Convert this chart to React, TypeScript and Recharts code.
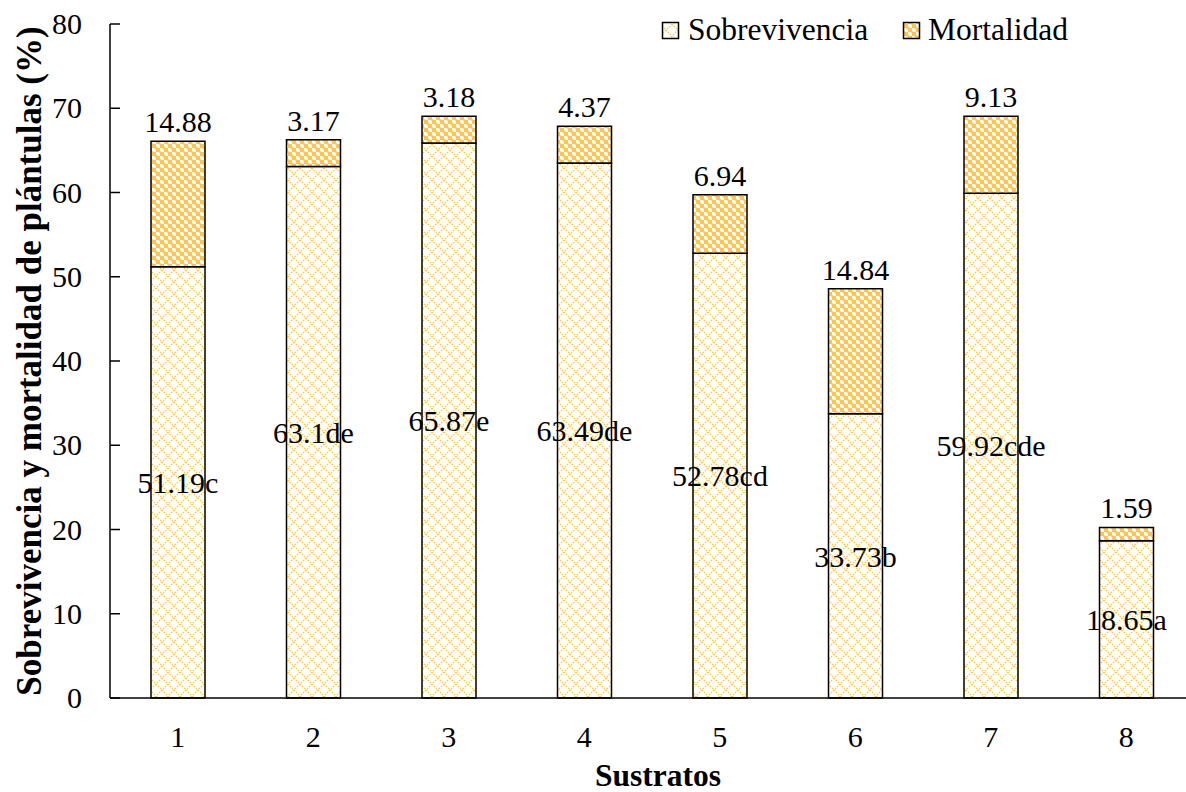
import React from "react";
import { BarChart, Bar, XAxis, YAxis, LabelList } from "recharts";

const sustratos = ["1", "2", "3", "4", "5", "6", "7", "8"];
const sobrevivencia = [51.19, 63.1, 65.87, 63.49, 52.78, 33.73, 59.92, 18.65];
const mortalidad = [14.88, 3.17, 3.18, 4.37, 6.94, 14.84, 9.13, 1.59];
const letras = ["c", "de", "e", "de", "cd", "b", "cde", "a"];
const yTicks = [0, 10, 20, 30, 40, 50, 60, 70, 80];

const data = sustratos.map((s, i) => ({
  sustrato: s,
  sobrevivencia: sobrevivencia[i],
  mortalidad: mortalidad[i],
  sobLabel: `${sobrevivencia[i]}${letras[i]}`,
}));

const FONT = '"Liberation Serif", "Times New Roman", serif';
const YELLOW = "#FFC44D";

const YTick = (props: any) => {
  const { x, y, payload } = props;
  return (
    <g>
      <text x={x} y={y} dy={10} textAnchor="end" fontSize={30} fontFamily={FONT} fill="#000">
        {payload.value}
      </text>
      <line x1={x + 28} x2={x + 38} y1={y} y2={y} stroke="#000" strokeWidth={1.5} />
    </g>
  );
};

const YLabel = (props: any) => {
  const { viewBox } = props;
  const cy = viewBox.y + viewBox.height / 2;
  return (
    <text
      x={29}
      y={cy}
      transform={`rotate(-90, 29, ${cy})`}
      textAnchor="middle"
      dominantBaseline="central"
      fontSize={35}
      fontWeight="bold"
      fontFamily={FONT}
      fill="#000"
    >
      Sobrevivencia y mortalidad de plántulas (%)
    </text>
  );
};

const XLabel = (props: any) => {
  const { viewBox } = props;
  return (
    <text
      x={658}
      y={viewBox.y + 88}
      textAnchor="middle"
      fontSize={31.5}
      fontWeight="bold"
      fontFamily={FONT}
      fill="#000"
    >
      Sustratos
    </text>
  );
};

// legend drawn as a small overlay at top right
const LegendOverlay = () => (
  <svg width={1186} height={60} style={{ position: "absolute", left: 0, top: 0 }}>
    <rect x={662.5} y={22.5} width={16} height={16} fill="url(#patSob)" stroke="#000" strokeWidth={1.5} />
    <text x={688} y={40} fontSize={31.5} fontFamily={FONT} fill="#000">
      Sobrevivencia
    </text>
    <rect x={903.5} y={22.5} width={16} height={16} fill="url(#patMor)" stroke="#000" strokeWidth={1.5} />
    <text x={928} y={40} fontSize={31.5} fontFamily={FONT} fill="#000">
      Mortalidad
    </text>
  </svg>
);

export default function App() {
  return (
    <div style={{ width: 1186, height: 792, overflow: "hidden", position: "relative", background: "#fff" }}>
      <style>{`html, body { margin: 0; padding: 0; overflow: hidden; }`}</style>
      <BarChart
        width={1186}
        height={792}
        data={data}
        margin={{ top: 24, right: 0, left: 0, bottom: 0 }}
        barCategoryGap={0}
        style={{ fontFamily: FONT }}
      >
        <defs>
          <pattern id="patSob" width="12" height="12" patternUnits="userSpaceOnUse">
            <rect width="12" height="12" fill="#fff" />
            <path d="M0 0 L12 12 M12 0 L0 12" stroke={YELLOW} strokeWidth="1.3" strokeDasharray="1.6 1.2" />
          </pattern>
          <pattern id="patMor" width="8" height="8" patternUnits="userSpaceOnUse">
            <rect width="8" height="8" fill="#fff" />
            <rect x="0" y="0" width="4" height="4" fill={YELLOW} />
            <rect x="4" y="4" width="4" height="4" fill={YELLOW} />
            <circle cx="4" cy="4" r="1.6" fill={YELLOW} />
            <circle cx="0" cy="8" r="1" fill={YELLOW} />
            <circle cx="8" cy="0" r="1" fill={YELLOW} />
          </pattern>
        </defs>
        <XAxis
          dataKey="sustrato"
          height={94}
          padding={{ left: 0, right: -8 }}
          tickLine={false}
          axisLine={{ stroke: "#000", strokeWidth: 1.5 }}
          tick={{ fill: "#000", fontSize: 30, fontFamily: FONT }}
          tickMargin={22}
          label={<XLabel />}
        />
        <YAxis
          domain={[0, 80]}
          ticks={yTicks}
          width={110}
          tickSize={0}
          tickMargin={28}
          tickLine={false}
          axisLine={{ stroke: "#000", strokeWidth: 1.5 }}
          tick={<YTick />}
          label={<YLabel />}
        />
        <Bar
          dataKey="sobrevivencia"
          stackId="a"
          barSize={54}
          fill="url(#patSob)"
          stroke="#000"
          strokeWidth={1.5}
          isAnimationActive={false}
        >
          <LabelList dataKey="sobLabel" position="center" fill="#000" fontSize={30} fontFamily={FONT} />
        </Bar>
        <Bar
          dataKey="mortalidad"
          stackId="a"
          barSize={54}
          fill="url(#patMor)"
          stroke="#000"
          strokeWidth={1.5}
          isAnimationActive={false}
        >
          <LabelList dataKey="mortalidad" position="top" offset={9} fill="#000" fontSize={30} fontFamily={FONT} />
        </Bar>
      </BarChart>
      <LegendOverlay />
    </div>
  );
}
